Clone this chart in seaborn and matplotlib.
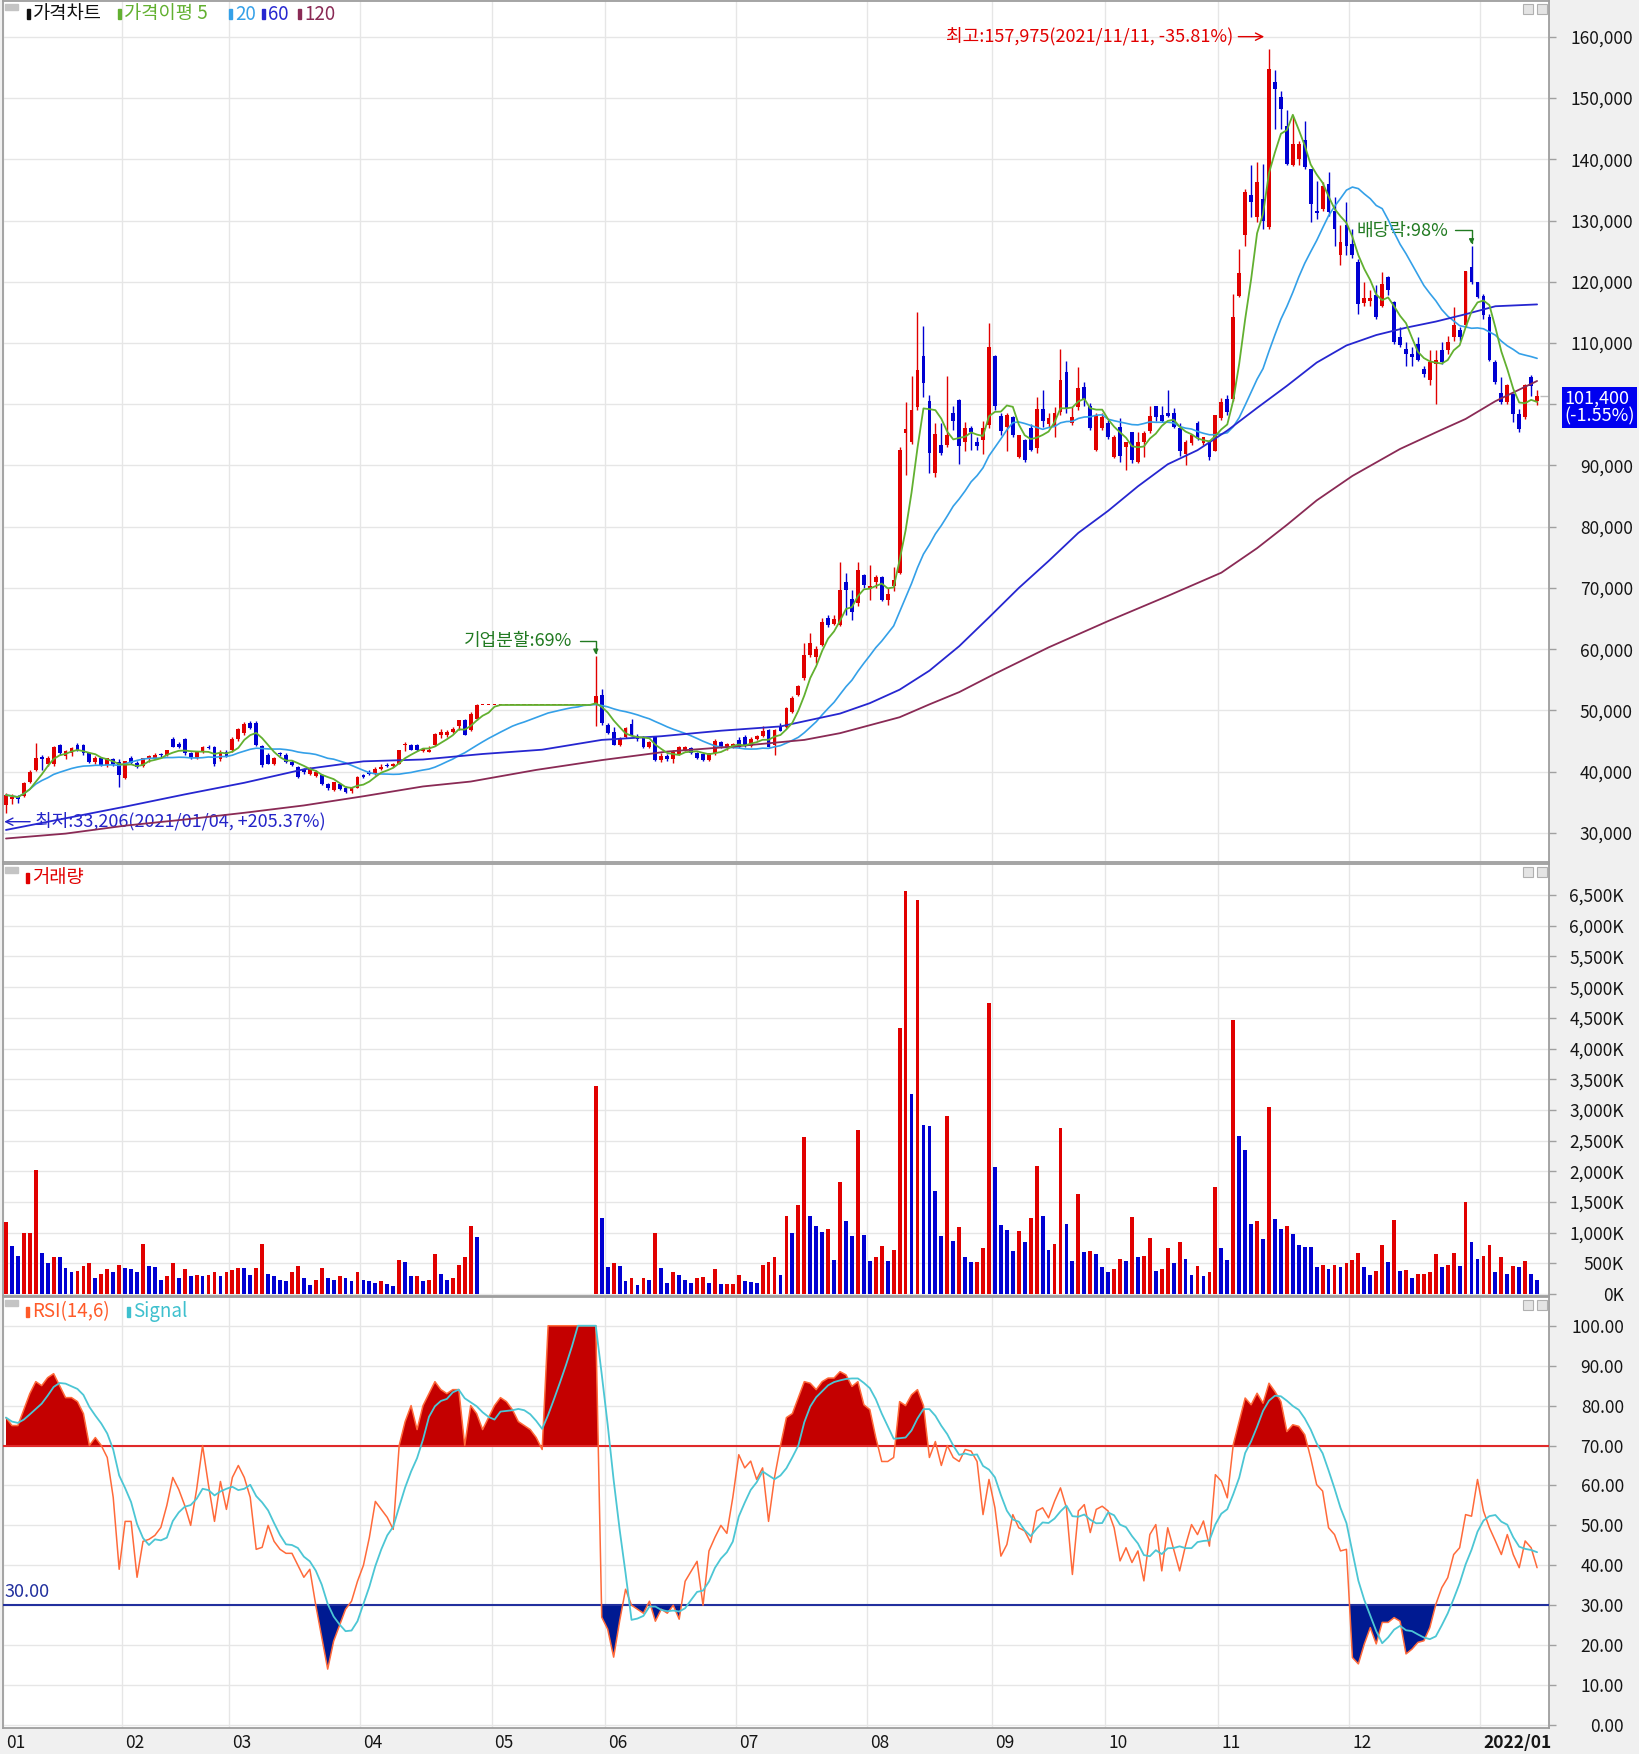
import matplotlib
matplotlib.use("Agg")
import matplotlib.pyplot as plt
import matplotlib.transforms as mtransforms
from matplotlib.patches import Rectangle
from matplotlib.ticker import FuncFormatter
import numpy as np
import pandas as pd
import seaborn as sns

# daily candles, 2021-01-04 .. 2022-01-14 (trading days, suspension Apr 29 - May 27 kept flat)
opens = [
    # Jan
    34600, 35600, 35900, 36000, 38400, 40300, 42400, 41300, 41300, 44400,
    42500, 43000, 44400, 44300, 43000, 41600, 42200, 41100, 42000, 41600,
    # Feb
    39000, 42200, 41400, 40900, 42000, 42300, 42900, 42800, 45400, 44500,
    45400, 43000, 42300, 43200, 44000, 44000, 42000, 43300,
    # Mar
    43500, 45300, 46300, 48000, 47900, 44200, 42700, 41300, 43000, 42700,
    41600, 40800, 40300, 39700, 39300, 39500, 38000, 37100, 38000, 37300,
    36800, 37400,
    # Apr
    39500, 40000, 39600, 40400, 41100, 40900, 41300, 44300, 44400, 44300,
    43400, 43300, 44400, 46000, 46000, 46500, 47500, 48400, 46800, 48600,
    # suspended
    50900, 50900, 50900, 50900, 50900, 50900, 50900, 50900, 50900, 50900,
    50900, 50900, 50900, 50900, 50900, 50900, 50900, 50900, 50900,
    # May 28 - Jun
    51000, 52600, 47600, 46500, 44300, 45700, 47800, 45900, 45700, 44100,
    45600, 41900, 42600, 42000, 42900, 43600, 43800, 43100, 42900, 41900,
    43000, 44800, 43800, 44000,
    # Jul
    45200, 45700, 44200, 45400, 45800, 46800, 44300, 47300, 47300, 49800,
    52500, 55300, 59100, 58800, 60700, 65100, 64200, 64000, 71000, 68200,
    67500, 72100,
    # Aug
    69800, 70900, 71800, 68000, 70300, 72500, 95300, 93900, 99500, 107900,
    100600, 88700, 93300, 93400, 98500, 100700, 93900, 96200, 93900, 94200,
    96600,
    # Sep
    107900, 98000, 96300, 97900, 91400, 94200, 96100, 92800, 99300, 96800,
    96300, 98800, 105200, 96900, 99600, 102800, 99700, 92500, 96100,
    # Oct
    96900, 91400, 96300, 93100, 95400, 90600, 93900, 95600, 99700, 98300,
    98500, 98500, 96100, 91900, 93600, 96900, 93700, 93900, 92300,
    # Nov
    97800, 100800, 100900, 117700, 127600, 134100, 130500, 133500, 129000, 152600,
    150100, 145500, 139000, 140100, 143100, 138400, 131500, 131900, 136000, 131600,
    124300, 129200,
    # Dec
    126200, 123200, 116500, 116800, 117800, 116100, 120800, 116700, 110900, 109100,
    108200, 109900, 105800, 103900, 106600, 108800, 108800, 110900, 112100, 112900,
    122400, 119900,
    # Jan 2022
    117700, 114200, 106900, 101900, 100300, 101700, 98400, 97900, 104400, 100600,
]
highs = [
    36500, 36300, 36200, 38400, 40300, 44750, 42700, 42600, 44200, 44600,
    43600, 44000, 44700, 44500, 43200, 42600, 42400, 42300, 42200, 42000,
    41800, 42600, 41800, 42300, 42700, 43000, 43100, 43600, 45600, 44800,
    45500, 43200, 43400, 44200, 44300, 44200, 43500, 43600,
    45600, 47200, 48200, 48300, 48300, 44300, 43000, 42400, 43200, 43000,
    41900, 41000, 40600, 40700, 40300, 39700, 38200, 38400, 38200, 37600,
    37500, 39300,
    39700, 40300, 40700, 41200, 41500, 41400, 43600, 44800, 44500, 44500,
    43800, 44200, 46400, 47000, 46800, 47300, 48500, 48600, 49700, 51000,
    50900, 50900, 50900, 50900, 50900, 50900, 50900, 50900, 50900, 50900,
    50900, 50900, 50900, 50900, 50900, 50900, 50900, 50900, 50900,
    58900, 53500, 47900, 47300, 45600, 47300, 48600, 46100, 45900, 45000,
    45700, 43000, 42900, 43500, 44200, 44200, 44000, 43300, 43100, 43100,
    45400, 45000, 44700, 44700,
    45600, 46000, 45600, 46000, 47400, 47000, 46900, 48000, 50600, 52300,
    54200, 61000, 62600, 60500, 65100, 65600, 65600, 74300, 72500, 69700,
    74300, 72300,
    73700, 72200, 72000, 70000, 73500, 93000, 100300, 104600, 115100, 112800,
    101500, 97000, 97000, 104600, 99700, 100800, 97100, 96400, 94600, 97300,
    113200,
    108000, 98500, 98500, 98000, 95000, 94400, 96800, 101200, 102300, 98600,
    99600, 109100, 107100, 99600, 106100, 103700, 100200, 98500, 98500,
    97400, 95000, 97700, 93900, 95400, 95500, 95600, 99700, 99700, 99700,
    102300, 99400, 96900, 94200, 95100, 97200, 94700, 94100, 98300,
    101000, 101500, 118000, 125300, 135200, 139000, 139500, 139300, 157975, 154500,
    151200, 148000, 146900, 143000, 146300, 138400, 136500, 136300, 137900, 133800,
    129200, 133000,
    128600, 123700, 119900, 118600, 119400, 121600, 121000, 116900, 112600, 110100,
    109300, 110900, 106300, 108800, 108800, 110100, 111200, 115900, 112600, 121800,
    125900, 120000,
    118000, 114800, 107200, 104500, 103300, 101900, 99300, 103300, 104700, 102300,
]
lows = [
    33206, 34800, 34900, 35800, 38200, 40100, 40300, 41000, 41000, 42700,
    42000, 42600, 43400, 42800, 41500, 41300, 40900, 40800, 41000, 37560,
    38800, 41200, 40600, 40700, 41600, 42100, 42400, 42600, 44000, 43800,
    42800, 42000, 42100, 43100, 43700, 40900, 41800, 42400,
    43300, 45000, 46000, 46900, 44200, 40800, 41200, 41100, 42600, 41500,
    40900, 38900, 39700, 39500, 39100, 37800, 37100, 36900, 37000, 36500,
    36600, 37300,
    39000, 39500, 39400, 40300, 40700, 40700, 41200, 43400, 43500, 43400,
    43200, 43200, 44200, 45500, 45600, 46300, 46800, 46000, 46600, 48400,
    50900, 50900, 50900, 50900, 50900, 50900, 50900, 50900, 50900, 50900,
    50900, 50900, 50900, 50900, 50900, 50900, 50900, 50900, 50900,
    47500, 47600, 46200, 44300, 44200, 45500, 45900, 45100, 43800, 43800,
    41800, 41600, 41800, 41400, 42700, 43400, 42900, 42100, 41700, 41700,
    42800, 43800, 43600, 43800,
    43900, 44000, 44000, 45200, 45600, 44000, 42700, 46600, 47200, 49600,
    52300, 55000, 58800, 57800, 60500, 63700, 63900, 63800, 65600, 64800,
    67000, 70000,
    68000, 70000, 67800, 67300, 69500, 72300, 88500, 93500, 99000, 101200,
    88800, 88200, 91700, 93100, 95800, 90300, 92300, 92500, 92500, 91900,
    96100,
    99100, 95000, 92300, 94700, 91200, 90600, 92300, 92000, 96300, 96300,
    94700, 98300, 98500, 96600, 99100, 99700, 95800, 92300, 95800,
    94400, 91200, 90600, 89300, 90400, 90400, 91400, 95300, 97200, 97100,
    97900, 96100, 91500, 90100, 93300, 94200, 93300, 90900, 92300,
    97500, 98200, 100600, 117500, 125900, 130600, 129700, 128600, 128600, 145000,
    145000, 139000, 138900, 139000, 138400, 129700, 130300, 131600, 130800, 125900,
    122700, 124300,
    123800, 114800, 116100, 116100, 114000, 115900, 117800, 109900, 109300, 106300,
    106300, 107000, 104400, 103100, 100100, 106600, 108200, 110400, 110400, 112600,
    119700, 117400,
    113900, 107000, 103300, 100100, 100100, 97100, 95500, 97600, 101400, 99800,
]
closes = [
    36200, 35900, 35500, 38100, 40000, 42200, 42000, 42200, 44000, 43000,
    43400, 43900, 43500, 43000, 41600, 42300, 41100, 42200, 41200, 39500,
    41700, 41400, 40800, 42200, 42500, 42800, 42700, 43500, 44100, 44000,
    43000, 42200, 43200, 44000, 43800, 41300, 43300, 42600,
    45400, 46900, 47800, 47200, 44400, 41100, 41300, 42200, 42900, 41600,
    41100, 39200, 40000, 40400, 40000, 38000, 37300, 38300, 37200, 36700,
    37300, 39100,
    39200, 39700, 40500, 40800, 40900, 41300, 43500, 44600, 43600, 43500,
    43700, 43600, 46200, 46500, 46500, 47000, 48400, 46000, 49500, 50900,
    50900, 50900, 50900, 50900, 50900, 50900, 50900, 50900, 50900, 50900,
    50900, 50900, 50900, 50900, 50900, 50900, 50900, 50900, 50900,
    52300, 47900, 46400, 44400, 45500, 47100, 46000, 45300, 44100, 44800,
    41900, 42500, 42000, 43200, 44100, 44100, 43000, 42300, 41900, 43000,
    45000, 43900, 44600, 44600,
    44100, 44200, 45400, 45800, 46600, 44100, 46800, 46700, 50400, 52000,
    54000, 59100, 61000, 60100, 64500, 64000, 65000, 69700, 69700, 66000,
    73000, 70500,
    70300, 71800, 68000, 69100, 71300, 92600, 95900, 99000, 105600, 103500,
    92000, 95100, 92000, 95000, 97200, 93200, 96100, 95500, 93200, 96100,
    109300,
    99700, 95700, 98200, 95000, 94900, 90900, 92600, 99300, 97200, 97700,
    98500, 104000, 99300, 97900, 102600, 100700, 96200, 98200, 97900,
    94700, 94700, 91500, 93900, 90900, 93900, 95300, 98000, 97900, 97200,
    98000, 96300, 92300, 93900, 95000, 94700, 94700, 91400, 98300,
    100400, 98700, 114200, 121500, 134600, 133000, 136300, 130000, 154800, 151500,
    148200, 139300, 142500, 142500, 138700, 132700, 131200, 135700, 131400, 128600,
    126500, 125900,
    124300, 116400, 117300, 117400, 114200, 119700, 118600, 110100, 109600, 108200,
    107700, 107200, 105000, 106900, 107200, 106900, 110100, 112900, 111000, 121800,
    119900, 117500,
    114500, 107200, 103600, 100300, 103100, 98400, 96000, 103100, 103000, 101400,
]
volumes_k = [
    1168, 777, 625, 995, 1000, 2027, 668, 505, 603, 598,
    430, 353, 375, 451, 505, 261, 332, 408, 353, 478,
    424, 408, 353, 821, 451, 445, 234, 288, 505, 261,
    408, 288, 310, 288, 310, 353, 288, 353,
    386, 430, 425, 310, 430, 821, 332, 288, 234, 207,
    353, 451, 261, 152, 234, 430, 261, 234, 288, 261,
    207, 353,
    234, 207, 179, 207, 158, 136, 560, 527, 288, 295,
    207, 234, 652, 332, 234, 261, 478, 603, 1114, 924,
    0, 0, 0, 0, 0, 0, 0, 0, 0, 0,
    0, 0, 0, 0, 0, 0, 0, 0, 0,
    3386, 1239, 440, 505, 451, 207, 261, 152, 261, 234,
    995, 430, 179, 353, 310, 234, 179, 261, 270, 179,
    408, 158, 162, 166,
    310, 207, 200, 179, 478, 527, 603, 310, 1266, 995,
    1457, 2560, 1266, 1114, 1011, 1060, 560, 1820, 1185, 940,
    2680, 967,
    533, 603, 777, 533, 723, 4337, 6565, 3261, 6419, 2750,
    2740, 1674, 940, 2897, 870, 1087, 598, 516, 522, 750,
    4734,
    2071, 1130, 1049, 696, 1022, 842, 1239, 2092, 1266, 723,
    821, 2707, 1141, 533, 1630, 680, 696, 652, 435,
    353, 408, 576, 533, 1250, 598, 625, 913, 380, 408,
    750, 505, 842, 570, 304, 451, 288, 353, 1745,
    750, 549, 4457, 2582, 2353, 1141, 1185, 897, 3044, 1228,
    1060, 1114, 984, 794, 766, 760, 435, 478, 408, 478,
    435, 505,
    560, 668, 435, 304, 380, 794, 522, 1212, 380, 385,
    261, 326, 330, 353, 652, 435, 478, 668, 451, 1500,
    842, 576,
    625, 794, 353, 598, 326, 451, 435, 543, 326, 234,
]
rsi_values = [
    77, 75, 75, 79, 83, 86, 85, 87, 88, 85, 82, 82, 81, 78, 70, 72, 70, 67, 57, 39,
    51, 51, 37, 46, 46.5, 47.5, 49.5, 55, 62, 59, 55, 50, 59, 70, 60, 51, 61, 54,
    62, 65, 62, 57, 44, 44.5, 50, 46, 44, 43, 43, 40, 37, 39, 30, 22, 14, 21, 25, 29, 31, 36,
    40, 47, 56, 54, 52, 49, 70, 76, 80, 74, 80, 83, 86, 84, 83, 84, 84, 70, 80, 78,
    74, 77, 80, 82, 81, 79, 76, 75, 74, 72, 69, 100, 100, 100, 100, 100, 100, 100, 100,
    100, 27, 24, 17, 26, 34, 30, 29, 28, 31, 26, 29, 28, 30, 26.5, 36, 38.5, 41, 30, 43.6,
    47, 50, 48, 57,
    67.7, 64.4, 66.1, 61.5, 64.4, 51, 62, 70, 77, 78, 82, 86, 85.6, 84, 86, 86.9, 86.9,
    88.5, 87.7, 84.8, 86, 80.2,
    79, 72, 66, 66, 67, 81, 80, 82.7, 84, 80, 67, 71, 65, 70, 67, 66, 69, 68.6, 66, 52.7, 61.5,
    54.4, 42.3, 45.2, 52.7, 49.4, 48.6, 45.7, 53.6, 54.4, 51.9, 56, 59.4, 54.4, 37.7, 53.6,
    55.2, 48.2, 54, 54.8,
    53.6, 49.4, 41.1, 44.4, 40.7, 43.6, 36.1, 47.7, 50.2, 38.6, 49.4, 44, 38.6, 45, 50.2,
    47.7, 51.1, 44.8, 62.7,
    61.1, 56.9, 70.2, 76, 81.9, 80.2, 83.1, 80.6, 85.6, 83.5, 81, 73.5, 75.2, 74.8, 72.7,
    66.9, 60.2, 58.6, 49.4, 47.7, 43.6, 44,
    16.9, 15.3, 20.3, 24.4, 20.3, 25.7, 25.7, 26.9, 26, 17.8, 19, 20.7, 21.1, 24.4, 30.2,
    34.4, 36.9, 42.7, 44.4, 52.7, 52.3, 61.5,
    53.6, 49.4, 46.1, 42.7, 47.7, 42.7, 39.4, 46.1, 44.4, 39.4,
]

# long moving averages (they need history before 2021)
ma60_days = [0, 10, 20, 30, 40, 50, 60, 70, 80, 90, 100, 110, 120, 130, 140, 145, 150,
             155, 160, 165, 170, 175, 180, 185, 190, 195, 200, 205, 210, 215, 220, 225,
             230, 235, 240, 245, 250, 257]
ma60_values = [30500, 32400, 34300, 36300, 38200, 40400, 41700, 42000, 42900, 43600,
               45200, 45800, 46700, 47400, 49500, 51200, 53400, 56500, 60500, 65200,
               70000, 74400, 79000, 82600, 86600, 90200, 92500, 95700, 99400, 103000,
               106800, 109600, 111300, 112500, 113500, 114700, 116000, 116300]
ma120_days = [0, 10, 20, 30, 40, 50, 60, 70, 78, 89, 100, 111, 122, 134, 140, 145, 150,
              155, 160, 166, 175, 185, 195, 204, 210, 215, 220, 226, 234, 240, 245, 250, 257]
ma120_values = [29100, 29900, 31200, 32200, 33300, 34500, 36000, 37600, 38400, 40300,
                41900, 43300, 44100, 45200, 46300, 47600, 48900, 51000, 53000, 56000,
                60300, 64600, 68700, 72500, 76500, 80300, 84300, 88300, 92700, 95400,
                97600, 100500, 103800]

month_starts = [0, 20, 38, 60, 82, 101, 123, 145, 166, 185, 204, 226, 248]
month_labels = ["01", "02", "03", "04", "05", "06", "07", "08", "09", "10", "11", "12", "2022/01"]
price_ticks = list(range(30000, 160001, 10000))
volume_ticks = list(range(0, 6501, 500))
rsi_ticks = list(range(0, 101, 10))

RED = "#E10000"
BLUE = "#0000D2"
MA5_C = "#62B030"
MA20_C = "#34A0E8"
MA60_C = "#2626D0"
MA120_C = "#8A2A55"
GRID = "#E6E6E6"
SPINE = "#9E9E9E"
W, H = 1639, 1754


def fx(x):
    return x / W


def fy(y):
    return 1 - y / H


def add_axes(fig, top, bottom):
    ax = fig.add_axes([fx(3), fy(bottom), fx(1549) - fx(3), fy(top) - fy(bottom)])
    ax.set_facecolor("white")
    for s in ax.spines.values():
        s.set_color(SPINE)
        s.set_linewidth(1.3)
    ax.set_xlim(-0.42, 259.0)
    ax.set_xticks([m - 0.5 for m in month_starts])
    ax.grid(True, color=GRID, linewidth=1.0)
    ax.set_axisbelow(True)
    ax.tick_params(axis="x", length=0, labelbottom=False)
    return ax


def style_right_axis(ax, ticks, fmt, right_px):
    ax.set_yticks(ticks)
    ax.yaxis.tick_right()
    ax.yaxis.set_major_formatter(FuncFormatter(fmt))
    ax.tick_params(axis="y", direction="out", length=5, width=1, color="#A0A0A0",
                   pad=(right_px - 1549 - 5) * 0.72, labelsize=12.5, labelcolor="#151515")
    plt.setp(ax.get_yticklabels(), ha="right")


def panel_decor(fig, y_top):
    fig.add_artist(Rectangle((fx(5), fy(y_top + 9)), fx(13), 6 / H, color="#C4C4C4",
                             transform=fig.transFigure))
    for x0 in (1523, 1537):
        fig.add_artist(Rectangle((fx(x0), fy(y_top + 13)), fx(10), 10 / H, facecolor="#E4E4E4",
                                 edgecolor="#B0B0B0", linewidth=0.8, transform=fig.transFigure))


def legend_item(fig, x_bar, y, text, color, size=13.5):
    fig.add_artist(Rectangle((fx(x_bar), fy(y + 5)), fx(3), 10 / H, color=color,
                             transform=fig.transFigure))
    fig.text(fx(x_bar + 6), fy(y), text, color=color, fontsize=size, va="center", ha="left")


def price_label(v, p):
    # the current-price box sits over the 100,000 label in the reference
    return "" if v == 100000 else f"{v:,.0f}"


def draw_price(fig, df):
    ax = add_axes(fig, 1, 862)
    up = df["close"] >= df["open"]
    colors = np.where(up, RED, BLUE)
    ax.vlines(df["day"], df["low"], df["high"], colors=colors, linewidth=1.0, zorder=2)
    bottom = np.minimum(df["open"], df["close"])
    height = np.maximum((df["close"] - df["open"]).abs(), 180)
    ax.bar(df["day"], height, bottom=bottom, width=0.64, color=colors, linewidth=0, zorder=3)

    ma = pd.DataFrame({"day": df["day"],
                       "ma5": df["close"].rolling(5, min_periods=1).mean(),
                       "ma20": df["close"].rolling(20, min_periods=1).mean()})
    sns.lineplot(data=ma, x="day", y="ma20", ax=ax, color=MA20_C, linewidth=1.2, zorder=4)
    sns.lineplot(x=ma60_days, y=ma60_values, ax=ax, color=MA60_C, linewidth=1.3, zorder=4)
    sns.lineplot(x=ma120_days, y=ma120_values, ax=ax, color=MA120_C, linewidth=1.3, zorder=4)
    sns.lineplot(data=ma, x="day", y="ma5", ax=ax, color=MA5_C, linewidth=1.3, zorder=5)

    ax.set_ylim(25265, 165837)
    style_right_axis(ax, price_ticks, price_label, 1631)
    ax.set_xlabel("")
    ax.set_ylabel("")

    last = len(df) - 1
    ax.hlines(df["close"].iloc[-1], last + 0.5, 259.0, color="#BDBDBD", linewidth=1, zorder=1)

    top_i = int(df["high"].idxmax())
    low_i = int(df["low"].idxmin())
    up_shift = mtransforms.offset_copy(ax.transData, fig=fig, y=9, units="points")
    down_shift = mtransforms.offset_copy(ax.transData, fig=fig, y=-6, units="points")
    ax.annotate("최고:157,975(2021/11/11, -35.81%)", xy=(top_i - 0.8, df["high"].iloc[top_i]),
                xycoords=up_shift, xytext=(-22, 0), textcoords="offset points",
                ha="right", va="center", color=RED, fontsize=13,
                arrowprops=dict(arrowstyle="->", color=RED, lw=1, shrinkA=1, shrinkB=0))
    ax.annotate("최저:33,206(2021/01/04, +205.37%)", xy=(low_i - 0.3, df["low"].iloc[low_i]),
                xycoords=down_shift, xytext=(22, 0), textcoords="offset points",
                ha="left", va="center", color="#2424C8", fontsize=13,
                arrowprops=dict(arrowstyle="->", color="#2424C8", lw=1, shrinkA=1, shrinkB=0))
    green = "#217A21"
    for day, label in ((99, "기업분할:69%"), (246, "배당락:98%")):
        ax.annotate(label, xy=(day, df["high"].iloc[day]), xytext=(-17, 11),
                    textcoords="offset points", ha="right", va="center", color=green,
                    fontsize=13,
                    arrowprops=dict(arrowstyle="-|>", color=green, lw=1, shrinkA=3, shrinkB=1,
                                    mutation_scale=7,
                                    connectionstyle="angle,angleA=0,angleB=90,rad=0"))

    ax.annotate("101,400\n(-1.55%)", xy=(1.0, df["close"].iloc[-1]),
                xycoords=("axes fraction", "data"), xytext=(11, -8.5), textcoords="offset points",
                ha="left", va="center", color="white", fontsize=13, linespacing=0.95,
                bbox=dict(boxstyle="square,pad=0.14", fc="#0000F0", ec="none"),
                annotation_clip=False, zorder=10)
    return ax


def draw_volume(fig, df):
    ax = add_axes(fig, 864, 1295.5)
    vol = df["volume"].to_numpy()
    prev = np.r_[0, vol[:-1]]
    colors = np.where(vol >= prev, RED, BLUE)
    ax.bar(df["day"], vol, width=0.64, color=colors, linewidth=0, zorder=3)
    ax.set_ylim(-25, 7007)
    style_right_axis(ax, volume_ticks, lambda v, p: f"{v:,.0f}K", 1622)
    return ax


def draw_rsi(fig, df):
    ax = add_axes(fig, 1297, 1728)
    rsi = df["rsi"].to_numpy()
    ax.fill_between(df["day"], 70, rsi, where=rsi >= 70, interpolate=True, color="#C40000",
                    linewidth=0, zorder=2)
    ax.fill_between(df["day"], 30, rsi, where=rsi <= 30, interpolate=True, color="#001A92",
                    linewidth=0, zorder=2)
    ax.axhline(70, color="#E02A2A", linewidth=1.5, zorder=3)
    ax.axhline(30, color="#22309E", linewidth=1.5, zorder=3)
    sig = pd.DataFrame({"day": df["day"], "signal": df["rsi"].rolling(6, min_periods=1).mean()})
    sns.lineplot(data=df, x="day", y="rsi", ax=ax, color="#FF6A3A", linewidth=1.1, zorder=4)
    sns.lineplot(data=sig, x="day", y="signal", ax=ax, color="#4CC6D4", linewidth=1.3, zorder=5)
    ax.set_ylim(-0.75, 107.2)
    ax.set_xlabel("")
    ax.set_ylabel("")
    style_right_axis(ax, rsi_ticks, lambda v, p: f"{v:.2f}", 1622)
    trans = mtransforms.blended_transform_factory(ax.transAxes, ax.transData)
    ax.text(0.001, 31.0, "30.00", transform=trans, color="#22309E", fontsize=13,
            va="bottom", ha="left")

    ax.tick_params(axis="x", labelbottom=True, pad=4, labelsize=12.5, labelcolor="#151515")
    ax.set_xticklabels(month_labels)
    offset = mtransforms.ScaledTranslation(3 / 100, 0, fig.dpi_scale_trans)
    for lbl in ax.get_xticklabels():
        lbl.set_horizontalalignment("left")
        lbl.set_transform(lbl.get_transform() + offset)
    ax.get_xticklabels()[-1].set_fontweight("bold")
    return ax


def main():
    sns.set_theme(style="white")
    plt.rcParams["font.family"] = ["Noto Sans CJK KR", "DejaVu Sans"]
    plt.rcParams["axes.unicode_minus"] = False

    df = pd.DataFrame({
        "open": opens, "high": highs, "low": lows, "close": closes,
        "volume": volumes_k, "rsi": rsi_values,
    })
    df["day"] = np.arange(len(df))

    fig = plt.figure(figsize=(W / 100, H / 100), dpi=100, facecolor="#F0F0F0")
    draw_price(fig, df)
    draw_volume(fig, df)
    draw_rsi(fig, df)

    for y_top in (1, 864, 1297):
        panel_decor(fig, y_top)

    legend_item(fig, 27, 14, "가격차트", "#101010")
    legend_item(fig, 118, 14, "가격이평 5", MA5_C)
    legend_item(fig, 229, 14, "20", MA20_C)
    legend_item(fig, 262, 14, "60", MA60_C)
    legend_item(fig, 298, 14, "120", MA120_C)
    legend_item(fig, 26, 878, "거래량", RED)
    legend_item(fig, 26, 1312, "RSI(14,6)", "#FF5A28")
    legend_item(fig, 127, 1312, "Signal", "#3EC0CE")

    fig.savefig("out.png", dpi=100, facecolor=fig.get_facecolor())


if __name__ == "__main__":
    main()
